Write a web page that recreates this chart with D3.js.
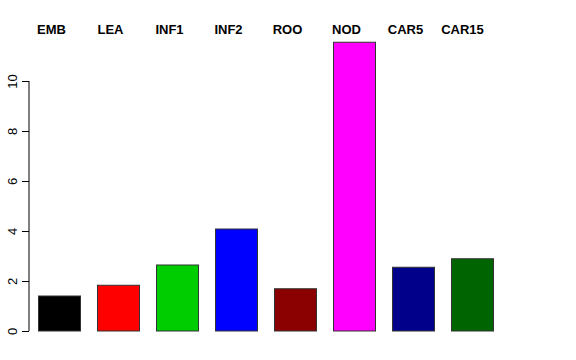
<!DOCTYPE html>
<html><head><meta charset="utf-8">
<script src="https://cdn.jsdelivr.net/npm/d3@7"></script>
<style>body{margin:0;background:#fff}svg{display:block}</style>
</head><body>
<svg id="c" width="576" height="360"></svg>
<script>
const categories = ["EMB","LEA","INF1","INF2","ROO","NOD","CAR5","CAR15"];
const values = [1.4, 1.83, 2.64, 4.08, 1.69, 11.55, 2.55, 2.89];
const colors = ["#000000","#FF0000","#00CD00","#0000FF","#8B0000","#FF00FF","#00008B","#006400"];
const yTicks = [0, 2, 4, 6, 8, 10];

const svg = d3.select("#c");
const x = d3.scaleBand().domain(categories).range([38.5, 493.5]).paddingInner(0.288).paddingOuter(0);
const y = d3.scaleLinear().domain([0, 10]).range([331, 81]);

svg.selectAll("rect.bar").data(categories).enter().append("rect")
  .attr("class","bar")
  .attr("x", d => x(d))
  .attr("y", (d,i) => y(values[i]))
  .attr("width", x.bandwidth())
  .attr("height", (d,i) => y(0) - y(values[i]))
  .attr("fill", (d,i) => colors[i])
  .attr("stroke", "#333")
  .attr("stroke-width", 1);

const yAxis = d3.axisLeft(y).tickValues(yTicks).tickSize(7).tickPadding(7).tickFormat(d3.format("d"));
const g = svg.append("g").attr("transform","translate(29,0)").call(yAxis);
g.select(".domain").attr("stroke","#000").attr("d", `M-0,${y(0)}V${y(10)}`);
g.selectAll(".tick line").attr("stroke","#000");
g.selectAll(".tick text")
  .attr("font-family","Liberation Sans, Arial, sans-serif")
  .attr("font-size", 13)
  .attr("fill","#000")
  .attr("text-anchor","middle")
  .attr("transform", function(d){ return `translate(-17,0) rotate(-90)`; })
  .attr("x", 0).attr("dy", "0.35em").attr("y", 0);

svg.selectAll("text.lab").data(categories).enter().append("text")
  .attr("class","lab")
  .attr("x", (d,i) => x(d) + x.bandwidth()/2 - (i === categories.length - 1 ? 10 : 8))
  .attr("y", 34)
  .attr("text-anchor","middle")
  .attr("font-family","Liberation Sans, Arial, sans-serif")
  .attr("font-weight","bold")
  .attr("font-size", 13)
  .attr("fill","#000")
  .text(d => d);
</script>
</body></html>
